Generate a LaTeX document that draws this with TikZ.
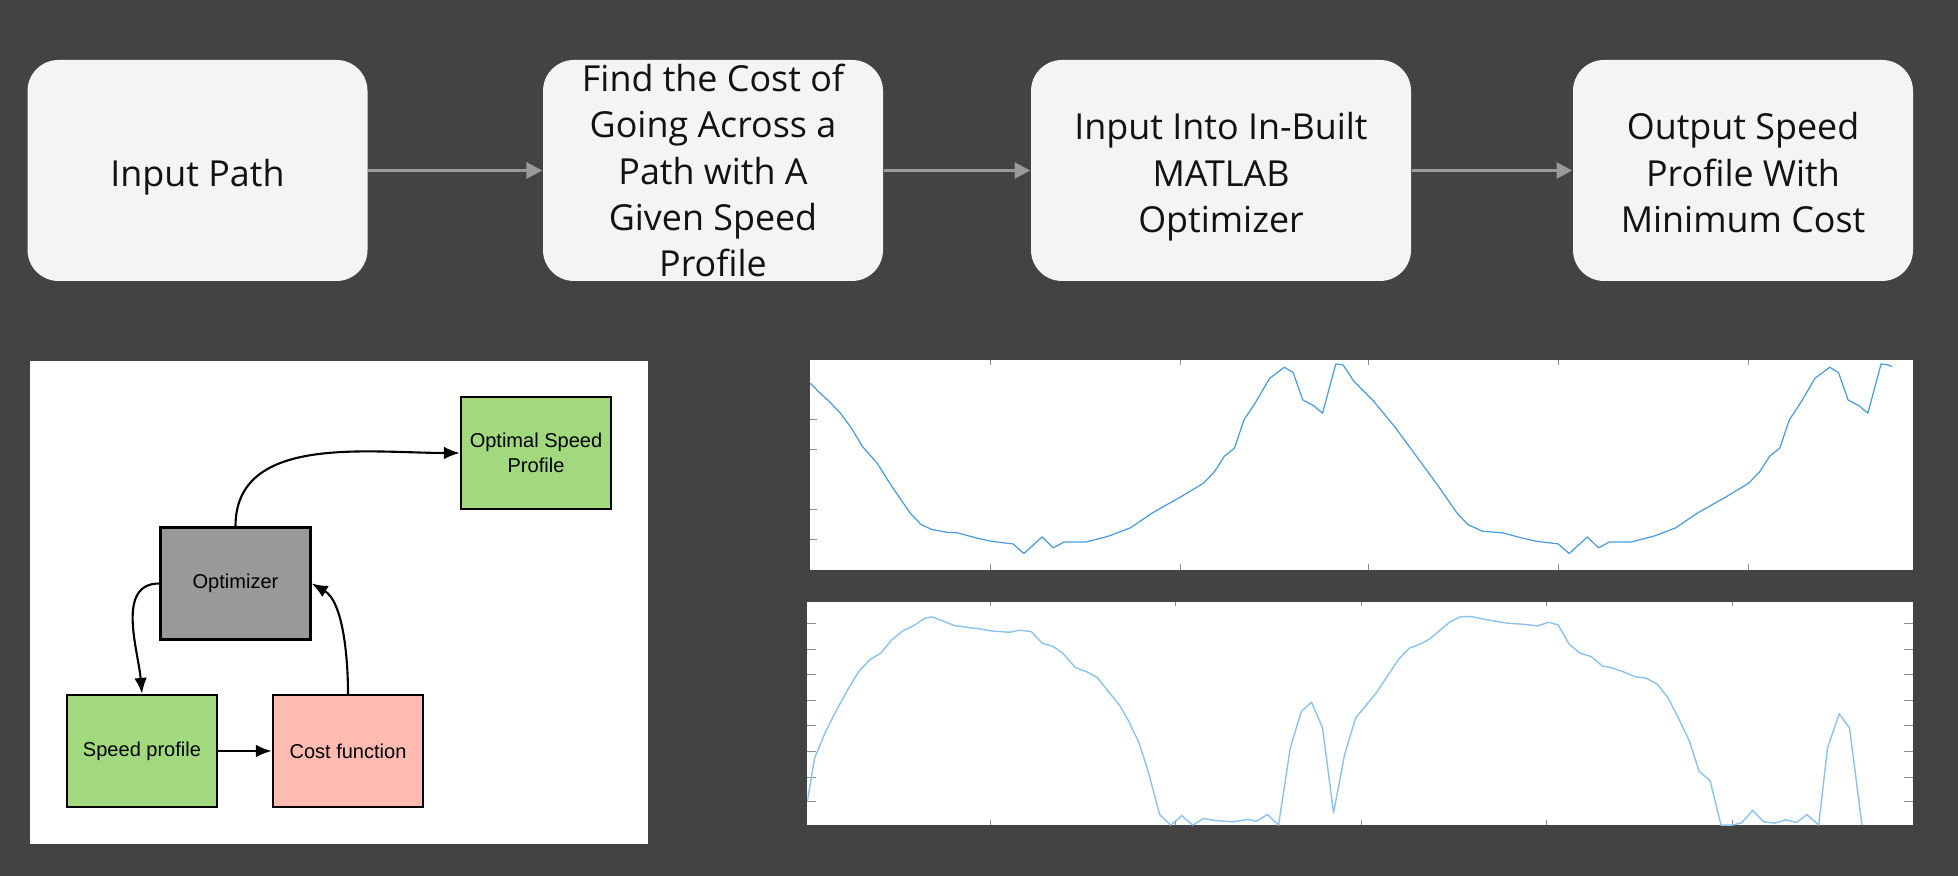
\documentclass[tikz,border=0pt]{standalone}
\usepackage{fontspec}
\newfontfamily\flowfont{Open Sans}
\newfontfamily\panelfont{Liberation Sans}
\usetikzlibrary{arrows.meta}

\definecolor{backdrop}{HTML}{434343}
\definecolor{stagefill}{HTML}{F4F4F4}
\definecolor{stagearrow}{HTML}{9A9A9A}
\definecolor{greenfill}{HTML}{A2D97E}
\definecolor{grayfill}{HTML}{999999}
\definecolor{pinkfill}{HTML}{FFBBB2}
\definecolor{traceblue}{HTML}{4A9CDB}
\definecolor{tracelight}{HTML}{8CC3EB}

\newcommand\stagestrut{\rule[-2.65pt]{0pt}{14.15pt}}

\begin{document}
\begin{tikzpicture}[>={Latex[length=4.5pt,width=3.6pt]},
  stagebox/.style={rectangle, fill=stagefill, rounded corners=0.31cm, minimum width=3.4cm,
    minimum height=2.21cm, inner sep=0pt, align=center, text=black!93,
    font=\flowfont\fontsize{10.2}{13.2}\selectfont},
  blockbox/.style={rectangle, draw, line width=0.7pt, minimum width=1.5cm, minimum height=1.12cm,
    inner sep=0pt, align=center, font=\panelfont\fontsize{5.7}{7.1}\selectfont},
  tick/.style={draw=black!45, line width=0.3pt}]

% Background and page size
\fill [backdrop] (0,0) rectangle (19.58,8.76);
\useasboundingbox (0,0) rectangle (19.58,8.76);

% Top row of stages
\node (inputpath) [stagebox] at (1.975,7.055) {\stagestrut Input Path\stagestrut};
% five lines fill the box, so no struts here
\node (findcost) [stagebox] at (7.13,7.055)
    {Find the Cost of\\Going Across a\\Path with A\\Given Speed\\Profile};
\node (matlab) [stagebox, minimum width=3.8cm] at (12.21,7.055)
    {\stagestrut Input Into In-Built\\MATLAB\\Optimizer\stagestrut};
\node (output) [stagebox] at (17.43,7.055)
    {\stagestrut Output Speed\\Profile With\\Minimum Cost\stagestrut};

\draw [-{Triangle[length=4.5pt,width=4.5pt]}, stagearrow, line width=1pt] (inputpath) -- (findcost);
\draw [-{Triangle[length=4.5pt,width=4.5pt]}, stagearrow, line width=1pt] (findcost) -- (matlab);
\draw [-{Triangle[length=4.5pt,width=4.5pt]}, stagearrow, line width=1pt] (matlab) -- (output);

% Optimization loop panel
\fill [white] (0.30,0.32) rectangle (6.48,5.15);

\node (optimal) [blockbox, fill=greenfill] at (5.36,4.23) {Optimal Speed\\Profile};
\node (optimizer) [blockbox, fill=grayfill] at (2.355,2.925) {Optimizer};
\node (speed) [blockbox, fill=greenfill] at (1.42,1.25) {Speed profile};
\node (cost) [blockbox, fill=pinkfill] at (3.48,1.25) {Cost function};

\draw [->, line width=0.6pt] (optimizer.north) to[out=90, in=180] (optimal.west);
\draw [->, line width=0.6pt] (optimizer.west) to[out=180, in=95] (speed.north);
\draw [->, line width=0.6pt] (speed) -- (cost);
\draw [->, line width=0.6pt] (cost.north) to[out=90, in=-30, looseness=0.8] (optimizer.east);

% Upper trace
\begin{scope}[shift={(8,5.26)}, x=0.007334cm, y=-0.003333cm]
  \fill [white] (14,30) rectangle (1516,660);
  \foreach \tx in {260,518,775,1033,1292} {
    \draw [tick] (\tx,30) -- (\tx,46);
    \draw [tick] (\tx,660) -- (\tx,644);
  }
  \foreach \ty in {208,298,480,570}
    \draw [tick] (14,\ty) -- (23,\ty);
  \draw [traceblue, line width=0.35pt, line join=round] plot coordinates {
    (14,100) (25,125) (40,155) (55,190) (70,235) (85,290) (105,340) (125,410) (150,490)
    (165,525) (180,540) (200,548) (215,550) (240,565) (260,575) (290,583) (305,612)
    (330,562) (345,595) (360,577) (390,577) (420,560) (450,535) (480,490) (520,440)
    (550,400) (565,365) (578,320) (592,295) (605,210) (620,160) (640,85) (660,52)
    (672,68) (685,150) (700,168) (712,190) (730,42) (740,45) (755,95) (780,150)
    (810,230) (840,320) (870,410) (895,490) (910,525) (930,545) (958,550) (983,565)
    (1003,575) (1033,583) (1048,612) (1073,562) (1088,595) (1103,577) (1133,577)
    (1163,560) (1193,535) (1223,490) (1263,440) (1293,400) (1308,365) (1321,320)
    (1335,295) (1348,210) (1363,160) (1383,85) (1403,52) (1415,68) (1428,150)
    (1443,168) (1455,190) (1473,42) (1483,45) (1488,50)};
\end{scope}

% Lower trace
\begin{scope}[shift={(8,2.81)}, x=0.007334cm, y=-0.003333cm]
  \fill [white] (10,20) rectangle (1516,692);
  \foreach \tx in {260,512,765,1017,1270} {
    \draw [tick] (\tx,20) -- (\tx,34);
    \draw [tick] (\tx,692) -- (\tx,678);
  }
  \foreach \ty in {85,163,240,316,393,470,548,622} {
    \draw [tick] (10,\ty) -- (22,\ty);
    \draw [tick] (1516,\ty) -- (1504,\ty);
  }
  \clip (10,20) rectangle (1516,692);
  \draw [tracelight, line width=0.4pt, line join=round] plot coordinates {
    (10,620) (20,490) (35,410) (50,345) (65,285) (80,230) (95,195) (110,175) (125,135)
    (140,108) (155,92) (170,70) (180,66) (195,78) (210,92) (230,98) (245,102) (260,108)
    (285,112) (300,106) (315,110) (330,145) (345,155) (358,175) (375,218) (390,230)
    (405,248) (420,290) (435,330) (448,380) (462,445) (475,535) (490,660) (505,692)
    (512,680) (520,663) (535,692) (550,672) (565,678) (590,682) (610,675) (622,680)
    (637,660) (652,692) (668,460) (683,350) (697,322) (712,400) (727,655) (742,480)
    (757,370) (770,335) (785,295) (800,245) (815,195) (830,160) (845,148) (858,132)
    (870,110) (885,82) (900,65) (915,65) (930,72) (945,78) (965,85) (985,88) (1005,93)
    (1020,82) (1033,90) (1048,148) (1063,175) (1078,185) (1093,213) (1108,220)
    (1123,232) (1138,246) (1153,250) (1168,268) (1183,310) (1198,375) (1212,440)
    (1225,530) (1240,558) (1255,692) (1270,692) (1283,685) (1298,648) (1313,682)
    (1328,686) (1343,676) (1358,684) (1372,660) (1388,692) (1400,460) (1416,357)
    (1430,400) (1447,692)};
\end{scope}
\end{tikzpicture}
\end{document}
